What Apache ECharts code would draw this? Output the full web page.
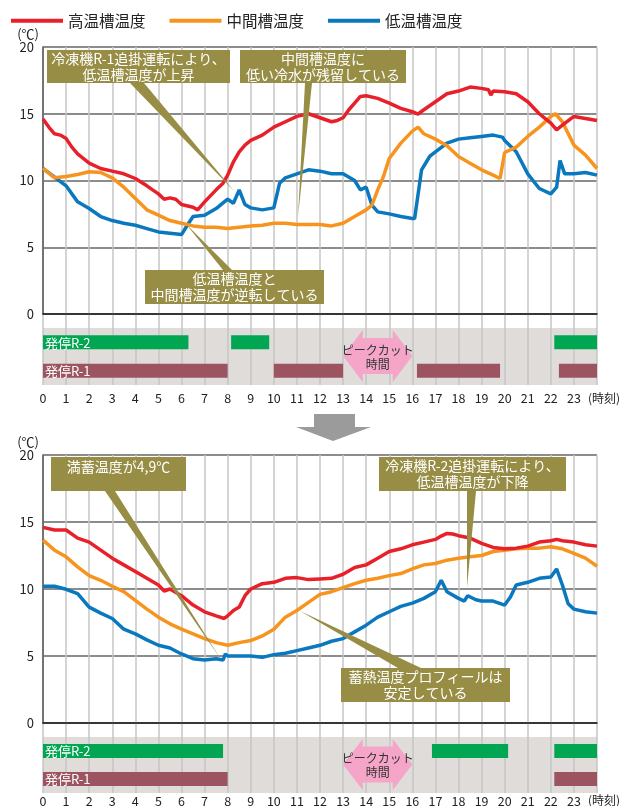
<!DOCTYPE html>
<html><head><meta charset="utf-8">
<script src="https://cdn.jsdelivr.net/npm/echarts/dist/echarts.min.js"></script>
<style>html,body{margin:0;padding:0;background:#fff}#c{width:629px;height:806px}</style>
</head><body><div id="c"></div>
<script>
// ---------- data ----------
const seriesNames = ['高温槽温度', '中間槽温度', '低温槽温度'];
const hourLabels = ['0','1','2','3','4','5','6','7','8','9','10','11','12','13','14','15','16','17','18','19','20','21','22','23'];
const tempTicks = ['0','5','10','15','20'];
const rowNames = ['R-1', 'R-2'];

const topHigh = [[0,14.6],[0.25,14.0],[0.5,13.5],[0.75,13.4],[1,13.15],[1.25,12.5],[1.5,12.0],[2,11.3],[2.5,10.9],[3,10.7],[3.5,10.5],[4,10.15],[4.5,9.6],[5,9.0],[5.25,8.6],[5.5,8.7],[5.75,8.6],[6,8.2],[6.5,8.0],[6.7,7.8],[7,8.4],[7.5,9.3],[7.8,9.8],[8,10.4],[8.25,11.4],[8.5,12.15],[8.75,12.65],[9,13.0],[9.5,13.4],[10,14.0],[10.5,14.4],[11,14.8],[11.5,15.0],[12,14.7],[12.5,14.4],[12.75,14.5],[13,14.7],[13.25,15.3],[13.5,15.8],[13.75,16.3],[14,16.35],[14.5,16.15],[15,15.8],[15.5,15.4],[16,15.15],[16.25,14.98],[16.5,15.3],[17,15.9],[17.5,16.5],[18,16.7],[18.5,17.0],[19,16.9],[19.3,16.8],[19.4,16.4],[19.5,16.7],[20,16.65],[20.5,16.5],[21,15.9],[21.5,15.0],[22,14.3],[22.25,13.8],[22.5,14.15],[23,14.8],[23.5,14.65],[24,14.5]];
const topMid = [[0,10.9],[0.5,10.2],[1,10.3],[1.5,10.45],[2,10.65],[2.5,10.6],[3,10.2],[3.5,9.5],[4,8.65],[4.5,7.8],[5,7.4],[5.5,7.0],[6,6.8],[6.5,6.6],[7,6.5],[7.5,6.5],[8,6.4],[8.5,6.5],[9,6.6],[9.5,6.65],[10,6.8],[10.5,6.8],[11,6.7],[11.5,6.7],[12,6.7],[12.5,6.6],[13,6.8],[13.5,7.3],[14,7.8],[14.25,8.15],[14.5,9.3],[14.75,10.3],[15,11.65],[15.5,12.8],[16,13.7],[16.25,14.0],[16.5,13.5],[17,13.1],[17.5,12.6],[18,11.8],[18.5,11.3],[19,10.8],[19.5,10.4],[19.8,10.15],[20,12.1],[20.5,12.5],[21,13.3],[21.5,14.0],[22,14.8],[22.2,15.0],[22.5,14.4],[23,12.65],[23.5,11.9],[24,10.9]];
const topLow = [[0,10.9],[0.5,10.25],[1,9.6],[1.5,8.4],[2,7.9],[2.5,7.3],[3,7.0],[3.5,6.8],[4,6.65],[4.5,6.4],[5,6.15],[5.5,6.05],[6,5.95],[6.25,6.65],[6.5,7.3],[7,7.4],[7.5,7.9],[8,8.6],[8.25,8.3],[8.5,9.3],[8.75,8.2],[9,7.95],[9.5,7.8],[10,7.95],[10.25,9.8],[10.5,10.2],[11,10.5],[11.5,10.8],[12,10.7],[12.5,10.5],[13,10.5],[13.5,10.0],[13.75,9.3],[14,9.5],[14.25,8.15],[14.5,7.65],[15,7.5],[15.5,7.3],[16,7.15],[16.1,7.15],[16.4,10.8],[16.75,11.8],[17,12.15],[17.5,12.8],[18,13.1],[18.5,13.2],[19,13.3],[19.5,13.4],[19.9,13.25],[20,13.0],[20.5,12.15],[21,10.5],[21.5,9.4],[22,9.0],[22.25,9.5],[22.4,11.5],[22.6,10.5],[23,10.5],[23.5,10.6],[24,10.4]];

const botHigh = [[0,14.6],[0.5,14.4],[1,14.4],[1.5,13.8],[2,13.5],[2.5,12.9],[3,12.3],[3.5,11.8],[4,11.3],[4.5,10.8],[5,10.3],[5.25,9.85],[5.5,10.0],[6,9.5],[6.5,8.8],[7,8.3],[7.5,8.0],[7.85,7.8],[8,8.0],[8.25,8.4],[8.5,8.65],[8.75,9.5],[9,10.0],[9.5,10.4],[10,10.5],[10.5,10.8],[11,10.85],[11.5,10.7],[12,10.75],[12.5,10.8],[13,11.1],[13.5,11.6],[14,11.8],[14.5,12.3],[15,12.8],[15.5,13.0],[16,13.3],[16.5,13.5],[17,13.7],[17.25,13.95],[17.5,14.15],[17.75,14.1],[18,13.98],[18.5,13.8],[19,13.4],[19.5,13.1],[20,13.0],[20.5,13.05],[21,13.2],[21.5,13.5],[22,13.6],[22.25,13.7],[22.5,13.6],[23,13.5],[23.5,13.3],[24,13.2]];
const botMid = [[0,13.65],[0.5,12.9],[1,12.4],[1.5,11.65],[2,11.0],[2.5,10.65],[3,10.2],[3.5,9.8],[4,9.15],[4.5,8.5],[5,7.9],[5.5,7.4],[6,7.0],[6.5,6.65],[7,6.3],[7.5,6.0],[8,5.8],[8.5,6.0],[9,6.15],[9.5,6.5],[10,7.0],[10.5,7.9],[11,8.4],[11.5,9.0],[12,9.6],[12.5,9.8],[13,10.1],[13.5,10.4],[14,10.65],[14.5,10.8],[15,11.0],[15.5,11.15],[16,11.5],[16.5,11.8],[17,11.9],[17.5,12.15],[18,12.3],[18.5,12.4],[19,12.5],[19.5,12.8],[20,12.9],[20.5,13.0],[21,13.05],[21.5,13.05],[22,13.15],[22.5,13.0],[23,12.65],[23.5,12.3],[24,11.7]];
const botLow = [[0,10.2],[0.5,10.2],[1,9.98],[1.5,9.65],[2,8.65],[2.5,8.2],[3,7.8],[3.5,7.0],[4,6.65],[4.5,6.2],[5,5.8],[5.5,5.6],[6,5.15],[6.5,4.8],[7,4.7],[7.5,4.8],[7.8,4.7],[7.9,5.15],[8,5.0],[8.5,5.0],[9,5.0],[9.5,4.9],[10,5.1],[10.5,5.2],[11,5.4],[11.5,5.6],[12,5.8],[12.5,6.1],[13,6.3],[13.5,6.8],[14,7.3],[14.5,7.9],[15,8.3],[15.5,8.7],[16,8.95],[16.5,9.3],[17,9.8],[17.25,10.65],[17.5,9.8],[18,9.3],[18.25,9.1],[18.4,9.5],[18.75,9.2],[19,9.1],[19.5,9.1],[20,8.8],[20.25,9.4],[20.5,10.3],[21,10.5],[21.5,10.8],[22,10.9],[22.25,11.5],[22.5,10.3],[22.75,8.9],[23,8.5],[23.5,8.3],[24,8.2]];

// operating periods [start hour, end hour]
const topR2 = [[0,6.3],[8.15,9.8],[22.15,24]];
const topR1 = [[0,8],[10,13],[16.2,19.8],[22.35,24]];
const botR2 = [[0,7.8],[16.85,20.15],[22.15,24]];
const botR1 = [[0,8],[22.15,24]];
const peakCut = [[13,16]];

// ---------- styles ----------
const FONT = '"Noto Sans CJK JP", "Noto Sans", sans-serif';
const COLORS = ['#e8202a', '#f7941e', '#0a78be'];
const BOX = '#978d45';

function xAxisCfg(grid, labels, margin, axisLine) {
  return {
    gridIndex: grid, type: 'value', min: 0, max: 24, interval: 1,
    axisLine: axisLine ? {show: true, onZero: false, lineStyle: {color: '#1a1a1a', width: 1.5}} : {show: false},
    axisTick: {show: false},
    axisLabel: {show: labels, margin: margin, fontSize: 12.5, color: '#222', fontFamily: FONT,
      showMaxLabel: false, formatter: v => hourLabels[v] !== undefined ? hourLabels[v] : ''},
    splitLine: {show: true, lineStyle: {color: '#c6c6c6', width: 1.5}},
    name: labels ? '(時刻)' : '', nameLocation: 'end', nameGap: -9,
    nameTextStyle: {fontSize: 12, color: '#222', fontFamily: FONT, align: 'left', verticalAlign: 'top', padding: [margin, 0, 0, 0]}
  };
}
function tempAxis(grid) {
  return {
    gridIndex: grid, type: 'value', min: 0, max: 20, interval: 5,
    axisLine: {show: true, lineStyle: {color: '#555', width: 1.5}},
    axisTick: {show: false},
    axisLabel: {margin: 9, fontSize: 13, color: '#222', fontFamily: FONT, formatter: v => tempTicks[v / 5]},
    splitLine: {show: true, lineStyle: {color: '#666', width: 1.5}},
    name: '(℃)', nameLocation: 'end', nameGap: 10,
    nameTextStyle: {fontSize: 13, color: '#222', fontFamily: FONT, align: 'right', verticalAlign: 'middle', padding: [0, 4, 0, 0]}
  };
}
const hiddenY = g => ({gridIndex: g, type: 'value', min: 0, max: 1, show: false});
const rowY = g => ({gridIndex: g, type: 'category', data: rowNames, show: false});

function lineSeries(name, data, idx, axis) {
  return {name, type: 'line', data, xAxisIndex: axis, yAxisIndex: axis, showSymbol: false,
    lineStyle: {color: COLORS[idx], width: 3.5}, itemStyle: {color: COLORS[idx]}, z: 3 + (2 - idx)};
}
function barRender(color, label) {
  return function (params, api) {
    const s = api.coord([api.value(0), api.value(2)]);
    const e = api.coord([api.value(1), api.value(2)]);
    const h = 14;
    const ch = [{type: 'rect', shape: {x: s[0], y: s[1] - h / 2, width: e[0] - s[0], height: h}, style: {fill: color}}];
    if (api.value(0) === 0) {
      ch.push({type: 'text', style: {text: label, x: s[0] + 2, y: s[1] + 0.5, fill: '#fff', font: '13px ' + FONT,
        align: 'left', verticalAlign: 'middle', textAlign: 'left', textVerticalAlign: 'middle'}});
    }
    return {type: 'group', children: ch};
  };
}
function barSeries(periods, row, color, axis) {
  return {type: 'custom', xAxisIndex: axis, yAxisIndex: axis, dimensions: ['start', 'end', 'row'],
    encode: {x: [0, 1], y: 2}, data: periods.map(p => [p[0], p[1], row]),
    renderItem: barRender(color, '発停' + row), z: 4, silent: true};
}
function peakRender(params, api) {
  const cs = params.coordSys;
  const x0 = api.coord([api.value(0), 0])[0];
  const x1 = api.coord([api.value(1), 0])[0];
  const hl = (x1 - x0) * 0.283;
  const top = cs.y + 2, bot = cs.y + cs.height - 3, mid = (top + bot) / 2;
  const st = mid - 18, sb = mid + 18;
  const xm = (x0 + x1) / 2;
  return {type: 'group', children: [
    {type: 'polygon', shape: {points: [[x0, mid], [x0 + hl, top], [x0 + hl, st], [x1 - hl, st], [x1 - hl, top], [x1, mid],
      [x1 - hl, bot], [x1 - hl, sb], [x0 + hl, sb], [x0 + hl, bot]]}, style: {fill: '#f5a5c8'}},
    {type: 'text', style: {text: 'ピークカット', x: xm, y: mid - 6, fill: '#333', font: '12px ' + FONT,
      align: 'center', verticalAlign: 'middle', textAlign: 'center', textVerticalAlign: 'middle'}},
    {type: 'text', style: {text: '時間', x: xm, y: mid + 8, fill: '#333', font: '12px ' + FONT,
      align: 'center', verticalAlign: 'middle', textAlign: 'center', textVerticalAlign: 'middle'}}
  ]};
}
function peakSeries(axis) {
  return {type: 'custom', xAxisIndex: axis, yAxisIndex: axis, encode: {x: [0, 1]}, data: peakCut,
    renderItem: peakRender, z: 5, silent: true};
}

// annotation boxes (decoration)
function box(x, y, w, h, text, ty) {
  return [
    {type: 'rect', z: 100, shape: {x, y, width: w, height: h}, style: {fill: BOX}},
    {type: 'text', z: 101, style: {text, x: x + w / 2, y: ty !== undefined ? ty : y + h / 2, fill: '#fff',
      font: '14px ' + FONT, lineHeight: 16, align: 'center', verticalAlign: 'middle', textAlign: 'center', textVerticalAlign: 'middle'}}
  ];
}
const wedge = pts => ({type: 'polygon', z: 99, shape: {points: pts}, style: {fill: BOX}});

const graphics = [
  wedge([[130, 83], [144, 83], [234, 191]]),
  wedge([[305, 83], [312, 83], [298, 217]]),
  wedge([[223, 270], [232, 270], [186, 224]]),
  wedge([[105, 491], [115, 491], [220, 658]]),
  wedge([[467, 491], [476, 491], [467, 587]]),
  wedge([[398, 668], [421, 668], [300, 611]]),
  ...box(47, 50, 183, 33, '冷凍機R-1追掛運転により、\n低温槽温度が上昇'),
  ...box(240, 50, 166, 33, '中間槽温度に\n低い冷水が残留している'),
  ...box(145, 270, 179, 34, '低温槽温度と\n中間槽温度が逆転している'),
  ...box(51, 457, 135, 34, '満蓄温度が4,9℃', 467),
  ...box(379, 457, 187, 34, '冷凍機R-2追掛運転により、\n低温槽温度が下降'),
  ...box(341, 668, 169, 34, '蓄熱温度プロフィールは\n安定している'),
  {type: 'polygon', z: 100, shape: {points: [[314, 414], [355, 414], [355, 427], [371, 427], [333, 441], [296, 427], [314, 427]]},
    style: {fill: '#9b9b9b'}}
];

const grids = [
  {left: 43, top: 47, width: 554, height: 267},
  {left: 43, top: 314, width: 554, height: 14},
  {left: 43, top: 328, width: 554, height: 57, show: true, backgroundColor: '#e0dcd9', borderWidth: 0},
  {left: 43, top: 455, width: 554, height: 268},
  {left: 43, top: 723, width: 554, height: 14},
  {left: 43, top: 737, width: 554, height: 56, show: true, backgroundColor: '#e0dcd9', borderWidth: 0}
].map(g => Object.assign({outerBoundsMode: 'none', containLabel: false}, g));

const option = {
  animation: false,
  backgroundColor: '#fff',
  textStyle: {fontFamily: FONT},
  legend: {left: 6, top: 8, itemWidth: 52, itemHeight: 4, itemGap: 24, icon: 'rect', selectedMode: false,
    data: seriesNames, textStyle: {fontSize: 15.5, color: '#222', fontFamily: FONT}},
  grid: grids,
  xAxis: [xAxisCfg(0, false, 0, true), xAxisCfg(1, false, 0, false), xAxisCfg(2, true, 7, false),
          xAxisCfg(3, false, 0, true), xAxisCfg(4, false, 0, false), xAxisCfg(5, true, 1.5, false)],
  yAxis: [tempAxis(0), hiddenY(1), rowY(2), tempAxis(3), hiddenY(4), rowY(5)],
  series: [
    lineSeries(seriesNames[0], topHigh, 0, 0),
    lineSeries(seriesNames[1], topMid, 1, 0),
    lineSeries(seriesNames[2], topLow, 2, 0),
    lineSeries(seriesNames[0], botHigh, 0, 3),
    lineSeries(seriesNames[1], botMid, 1, 3),
    lineSeries(seriesNames[2], botLow, 2, 3),
    barSeries(topR2, 'R-2', '#00a651', 2),
    barSeries(topR1, 'R-1', '#9c5560', 2),
    barSeries(botR2, 'R-2', '#00a651', 5),
    barSeries(botR1, 'R-1', '#9c5560', 5),
    peakSeries(2),
    peakSeries(5)
  ],
  graphic: {elements: graphics}
};
const chart = echarts.init(document.getElementById('c'), null, {renderer: 'canvas'});
chart.setOption(option);
</script></body></html>
